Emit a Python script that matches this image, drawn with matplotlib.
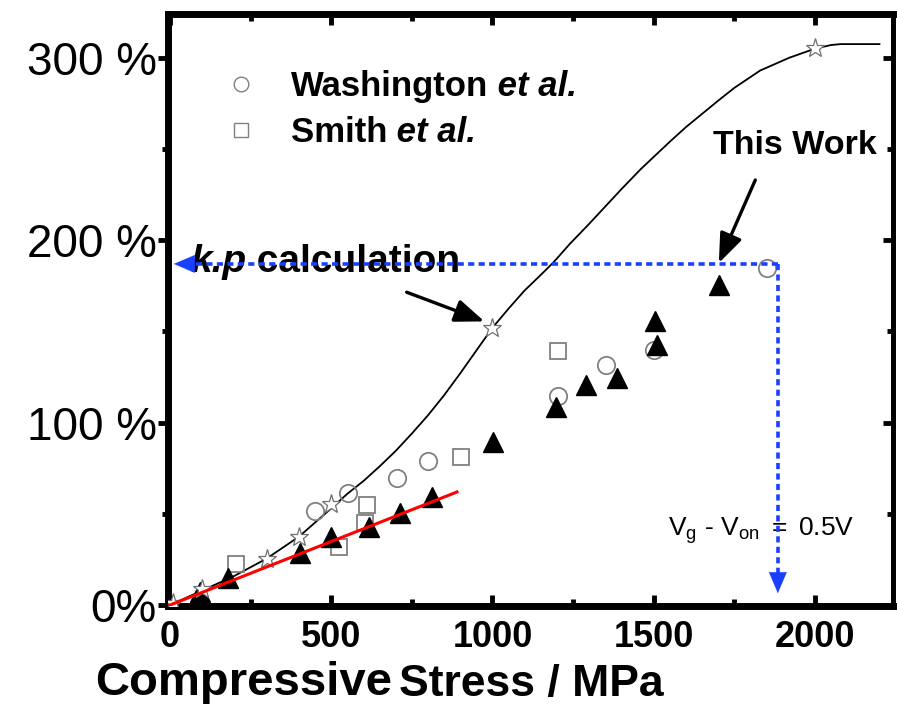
import matplotlib
matplotlib.use('Agg')
import matplotlib.pyplot as plt
from matplotlib.lines import Line2D
from matplotlib.ticker import MultipleLocator, FixedLocator

plt.rcParams['font.family'] = ['Liberation Sans', 'DejaVu Sans']
plt.rcParams['mathtext.fontset'] = 'custom'
plt.rcParams['mathtext.rm'] = 'Liberation Sans'
plt.rcParams['mathtext.it'] = 'Liberation Sans:italic'
plt.rcParams['mathtext.bf'] = 'Liberation Sans:bold'

# ---------------- data ----------------
kp_curve_x = [0, 100, 200, 300, 400, 500, 550, 600, 650, 700, 750, 800, 850, 900, 950, 1000,
              1050, 1100, 1150, 1190, 1240, 1300, 1400, 1460, 1550, 1600, 1700, 1750, 1830,
              1920, 2000, 2050, 2080, 2200]
kp_curve_y = [0, 8, 16, 25.5, 37.5, 53, 61, 68, 76, 84.5, 94, 104, 115, 127, 139.5, 152,
              162.5, 172.5, 181, 188, 198, 209, 228, 239, 254, 262, 276.5, 283.5, 293,
              300, 305, 307, 307.5, 307.5]
kp_star_x = [10, 100, 300, 400, 500, 1000, 2000]
kp_star_y = [1, 9, 25, 37.5, 55.5, 152, 305.5]
wash_x = [450, 553, 703, 801, 1202, 1352, 1502, 1852]
wash_y = [51.5, 61.3, 69.5, 79.2, 114.6, 131.6, 140, 184.7]
smith_x = [204, 525, 604, 612, 902, 1204]
smith_y = [22.5, 32, 45, 54.7, 81.4, 139.5]
this_x = [93, 181, 403, 498, 617, 713, 814, 1002, 1197, 1290, 1387, 1504, 1509, 1703]
this_y = [7.3, 15, 28.4, 37.1, 42.6, 50.6, 59.4, 89.6, 108.8, 120.7, 124.3, 155.8, 142.6, 175.5]
fit_x = [0, 890]
fit_y = [0, 62]
guide_x = 1885      # MPa
guide_y = 187       # %
x_ticks = [0, 500, 1000, 1500, 2000]
x_ticklabels = ['0', '500', '1000', '1500', '2000']
y_ticks = [0, 100, 200, 300]
y_ticklabels = ['0%', '100 %', '200 %', '300 %']
legend_labels = ['Washington', 'Smith']

BLUE = '#1a40ff'
GRAY = '#808080'

fig = plt.figure(figsize=(8.97, 7.04), dpi=100)
ax = fig.add_axes([168 / 897, 1 - 606 / 704, 725 / 897, 592 / 704])
ax.set_xlim(-6, 2242)
ax.set_ylim(-0.5, 324)

# curve and markers
ax.plot(kp_curve_x, kp_curve_y, color='black', lw=1.3, zorder=3)
ax.plot(wash_x, wash_y, ls='none', marker='o', ms=12.5, mfc='none', mec=GRAY, mew=1.3, zorder=4)
ax.plot(smith_x, smith_y, ls='none', marker='s', ms=11.5, mfc='none', mec=GRAY, mew=1.3, zorder=4)
ax.plot(this_x, this_y, ls='none', marker='^', ms=14.5, mfc='black', mec='black', zorder=5)
ax.plot(kp_star_x, kp_star_y, ls='none', marker='*', ms=14, mfc='white', mec='#707070', mew=0.9, zorder=6)
ax.plot(fit_x, fit_y, color='red', lw=2.2, zorder=7)

# blue dotted guide lines with arrow heads
dot = (0, (1.7, 1.2))
ax.plot([guide_x, 45], [guide_y, guide_y], color=BLUE, lw=2.6, ls=dot, dash_capstyle='butt', zorder=8)
ax.plot([guide_x, guide_x], [guide_y, 13], color=BLUE, lw=2.6, ls=dot, dash_capstyle='butt', zorder=8)
ax.annotate('', xy=(12, guide_y), xytext=(60, guide_y),
            arrowprops=dict(arrowstyle='-|>,head_length=0.75,head_width=0.32', color=BLUE, lw=0.1,
                            mutation_scale=20, shrinkA=0, shrinkB=0), zorder=8)
ax.annotate('', xy=(guide_x, 6.5), xytext=(guide_x, 16),
            arrowprops=dict(arrowstyle='-|>,head_length=0.75,head_width=0.32', color=BLUE, lw=0.1,
                            mutation_scale=20, shrinkA=0, shrinkB=0), zorder=8)

# black arrows
ax.annotate('', xy=(975, 155.5), xytext=(734, 171.5),
            arrowprops=dict(arrowstyle='-|>,head_length=0.9,head_width=0.35', color='black', lw=2.4,
                            mutation_scale=20, shrinkA=0, shrinkB=0), zorder=9)
ax.annotate('', xy=(1702, 187.5), xytext=(1815, 233),
            arrowprops=dict(arrowstyle='-|>,head_length=0.9,head_width=0.35', color='black', lw=2.4,
                            mutation_scale=20, shrinkA=0, shrinkB=0), zorder=9)

# texts
t1 = ax.text(62, 188, 'k.p', fontsize=28, fontweight='bold', fontstyle='italic',
             va='center', ha='left', zorder=7)
ax.annotate(' calculation', xy=(1, 0), xycoords=t1, va='bottom', ha='left',
            fontsize=28, fontweight='bold', zorder=7)
ax.text(1938, 252, 'This Work', fontsize=24.5, fontweight='bold', ha='center', va='center')
ax.text(1544, 41, r'$\mathregular{V_g\ \text{-}\ V_{on}\ =\ 0.5V}$', fontsize=19, ha='left', va='center')

# legend
handles = [Line2D([], [], ls='none', marker='o', ms=10.5, mfc='none', mec=GRAY, mew=1.0),
           Line2D([], [], ls='none', marker='s', ms=10, mfc='none', mec=GRAY, mew=1.0)]
leg = ax.legend(handles, legend_labels, loc='upper left', bbox_to_anchor=(0.081, 0.905),
                frameon=False, borderpad=0, borderaxespad=0, handlelength=0.8,
                handletextpad=1.05, labelspacing=0.38,
                prop=dict(family='Liberation Sans', weight='bold', size=25))
leg.set_zorder(5)
for txt in leg.get_texts():
    ax.annotate(' et al.', xy=(1, 0), xycoords=txt, va='bottom', ha='left',
                fontsize=25, fontweight='bold', fontstyle='italic', zorder=20)

# spines & ticks
for s in ax.spines.values():
    s.set_linewidth(5)
ax.spines['right'].set_linewidth(3.5)
ax.xaxis.set_major_locator(FixedLocator(x_ticks))
ax.xaxis.set_minor_locator(MultipleLocator(250))
ax.set_xticklabels(x_ticklabels, fontweight='bold', fontsize=26)
ax.yaxis.set_major_locator(FixedLocator(y_ticks))
ax.yaxis.set_minor_locator(MultipleLocator(50))
ax.set_yticklabels(y_ticklabels, fontsize=33)
ax.tick_params(axis='x', which='both', direction='in', top=True, bottom=True, width=3.5)
ax.tick_params(axis='x', which='major', length=8, pad=10)
ax.tick_params(axis='x', which='minor', length=5)
ax.tick_params(axis='y', which='both', direction='out', left=True, right=False, width=3.5)
ax.tick_params(axis='y', which='major', length=7, pad=1)
ax.tick_params(axis='y', which='minor', length=4)

sec = ax.secondary_yaxis('right')
sec.spines['right'].set_linewidth(3.5)
sec.yaxis.set_major_locator(FixedLocator(y_ticks))
sec.yaxis.set_minor_locator(MultipleLocator(50))
sec.tick_params(axis='y', which='both', direction='in', width=3.5, labelright=False)
sec.tick_params(axis='y', which='major', length=7)
sec.tick_params(axis='y', which='minor', length=4)

# x label in two type styles
c = fig.text(95 / 897, 1 - 695 / 704, 'Compressive', fontsize=34, fontweight='bold', ha='left', va='baseline')
ax.annotate('Stress / MPa', xy=(1, 0), xycoords=c, xytext=(7, 0), textcoords='offset pixels',
            va='bottom', ha='left', fontsize=32, fontweight='bold', annotation_clip=False, zorder=20)

fig.canvas.draw()
fig.savefig('out.png', dpi=100)
